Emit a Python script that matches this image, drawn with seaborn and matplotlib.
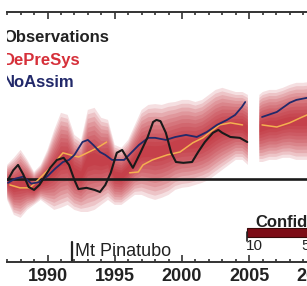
import numpy as np
import pandas as pd
import matplotlib
matplotlib.use("Agg")
import matplotlib.pyplot as plt
import seaborn as sns
from matplotlib.patches import Rectangle

# ---------------- data ----------------
obs_year = [1987.06, 1987.45, 1987.81, 1988.2, 1988.6, 1989.0, 1989.4, 1989.8, 1990.2, 1990.7,
            1991.2, 1991.6, 1992.0, 1992.3, 1992.9, 1993.5, 1993.9, 1994.3, 1994.7, 1995.15,
            1995.55, 1995.9, 1996.35, 1996.9, 1997.45, 1997.85, 1998.1, 1998.4, 1998.8, 1999.2,
            1999.55, 2000.1, 2000.75, 2001.2, 2001.7, 2002.3, 2002.7, 2003.0, 2003.6, 2004.3, 2004.85]
obs_val = [-0.003, 0.020, 0.033, 0.010, -0.020, -0.027, -0.015, 0.005, 0.026, 0.045,
           0.050, 0.033, -0.003, -0.025, -0.022, -0.027, -0.032, -0.015, 0.014, 0.062,
           0.069, 0.050, 0.026, 0.062, 0.100, 0.136, 0.141, 0.138, 0.110, 0.062,
           0.040, 0.038, 0.040, 0.064, 0.088, 0.110, 0.117, 0.110, 0.100, 0.098, 0.088]

noassim_year = [1987.06, 1987.6, 1988.2, 1988.8, 1989.4, 1990.0, 1990.6, 1991.15, 1991.6, 1992.0,
                1992.6, 1993.0, 1993.4, 1993.9, 1994.3, 1994.8, 1995.7, 1996.8, 1997.5, 1998.0,
                1998.8, 1999.5, 2000.3, 2001.1, 2001.85, 2002.6, 2003.35, 2003.95, 2004.45, 2004.7,
                2005.95, 2007.05, 2008.0, 2008.5, 2009.3, 2010.0]
noassim_val = [-0.010, 0.000, 0.005, -0.012, -0.008, 0.006, 0.025, 0.040, 0.045, 0.057,
               0.088, 0.093, 0.081, 0.064, 0.057, 0.045, 0.045, 0.081, 0.098, 0.098,
               0.093, 0.100, 0.105, 0.100, 0.112, 0.129, 0.141, 0.153, 0.172, 0.184,
               0.148, 0.160, 0.182, 0.189, 0.194, 0.196]
noassim_seg = [0] * 30 + [1] * 6

depresys_year = [1987.2, 1987.95, 1988.7, 1989.45, 1990.2, 1991.15, 1991.7, 1992.3, 1992.95, 1993.7,
                 1994.4, 1996.1, 1996.75, 1997.1, 1997.8, 1998.9, 1999.85, 2000.8, 2001.55, 2002.1,
                 2002.8, 2003.6, 2004.5, 2005.95, 2007.05, 2008.0, 2008.8, 2009.3, 2010.0]
depresys_val = [-0.015, -0.022, -0.022, 0.002, 0.026, 0.062, 0.057, 0.052, 0.062, 0.074,
                0.088, 0.014, 0.016, 0.033, 0.045, 0.057, 0.064, 0.086, 0.098, 0.112,
                0.129, 0.134, 0.129, 0.129, 0.124, 0.134, 0.146, 0.153, 0.165]
depresys_seg = [0] * 11 + [1] * 12 + [2] * 6

band_year = [1987.0, 1987.5, 1988.0, 1988.5, 1989.0, 1989.5, 1990.0, 1990.5, 1991.0, 1991.5,
             1992.0, 1992.5, 1993.0, 1993.5, 1994.0, 1994.5, 1995.0, 1995.5, 1996.0, 1996.5,
             1997.0, 1997.5, 1998.0, 1998.5, 1999.0, 1999.5, 2000.0, 2000.5, 2001.0, 2001.5,
             2002.0, 2002.5, 2003.0, 2003.5, 2004.0, 2004.5, 2004.9, 2005.3,
             2005.75, 2006.0, 2006.5, 2007.0, 2007.5, 2008.0, 2008.5, 2009.0, 2009.5, 2010.0]
band_upper = [0.033, 0.050, 0.069, 0.045, 0.016, 0.033, 0.069, 0.117, 0.158, 0.153,
              0.105, 0.093, 0.165, 0.170, 0.146, 0.141, 0.081, 0.074, 0.093, 0.129,
              0.165, 0.177, 0.179, 0.177, 0.182, 0.184, 0.189, 0.189, 0.184, 0.189,
              0.201, 0.213, 0.218, 0.213, 0.208, 0.208, 0.201, np.nan,
              0.201, 0.208, 0.213, 0.213, 0.218, 0.225, 0.230, 0.230, 0.232, 0.232]
band_lower = [-0.051, -0.087, -0.094, -0.075, -0.063, -0.051, -0.063, -0.075, -0.070, -0.063,
              -0.075, -0.080, -0.080, -0.075, -0.063, -0.051, -0.063, -0.063, -0.051, -0.039,
              -0.039, -0.046, -0.051, -0.046, -0.039, -0.027, -0.022, -0.020, -0.015, -0.010,
              -0.003, 0.009, 0.021, 0.033, 0.045, 0.045, 0.033, np.nan,
              0.040, 0.040, 0.045, 0.045, 0.050, 0.050, 0.045, 0.045, 0.045, 0.045]

tick_years = [1990, 1995, 2000, 2005, 2010]
tick_labels = ["1990", "1995", "2000", "2005", "2010"]
pinatubo_year = 1991.8
series_labels = ["Observations", "DePreSys", "NoAssim"]
conf_labels = ["10", "5"]

# ---------------- style ----------------
sns.set_style("white")
plt.rcParams["font.family"] = ["Liberation Sans", "DejaVu Sans"]

W, H = 307, 286
fig = plt.figure(figsize=(W / 100, H / 100), dpi=100)
ax_left_px, ax_width_px = 7.15, 336.25
ax = fig.add_axes([ax_left_px / W, 24 / H, ax_width_px / W, 250 / H])
ax.set_xlim(1987.0, 2012.0)
ax.set_ylim(-0.2, 0.4)

# shaded DePreSys confidence fan (smooth gradient from pale edge to dark core)
by = np.array(band_year)
bu = np.array(band_upper)
bl = np.array(band_lower)
bc = (bu + bl) / 2
for f in np.linspace(1.0, 0.12, 11):
    ax.fill_between(by, bc - f * (bc - bl), bc + f * (bu - bc),
                    color="#b80f1c", alpha=0.13, linewidth=0, zorder=1)

ax.axhline(0, color="#1a1a1a", lw=1.9, zorder=2)

df_dp = pd.DataFrame({"year": depresys_year, "val": depresys_val, "seg": depresys_seg})
sns.lineplot(data=df_dp, x="year", y="val", units="seg", estimator=None,
             color="#f4b050", lw=1.1, ax=ax, zorder=3)
df_na = pd.DataFrame({"year": noassim_year, "val": noassim_val, "seg": noassim_seg})
sns.lineplot(data=df_na, x="year", y="val", units="seg", estimator=None,
             color="#22296a", lw=1.3, ax=ax, zorder=4)
df_obs = pd.DataFrame({"year": obs_year, "val": obs_val})
sns.lineplot(data=df_obs, x="year", y="val", color="#1a1a1a", lw=1.5, ax=ax, zorder=5)

# axes styling
for s in ["top", "bottom"]:
    ax.spines[s].set_color("#333333")
    ax.spines[s].set_linewidth(1.4)
ax.spines["left"].set_visible(False)
ax.spines["right"].set_visible(False)
ax.set_xticks(tick_years)
ax.set_xticklabels(tick_labels, fontsize=13, fontweight="bold", color="#222222")
ax.set_xticks(np.arange(1987, 2013), minor=True)
ax.tick_params(axis="x", which="both", direction="in", top=True, bottom=True,
               color="#333333", width=1.2, pad=4)
ax.tick_params(axis="x", which="major", length=5)
ax.tick_params(axis="x", which="minor", length=2.5)
ax.set_yticks([])
ax.set_xlabel("")
ax.set_ylabel("")

# legend text (clipped to axes like the original)
leg_x = (3 - ax_left_px) / ax_width_px
for lab, col, yy in zip(series_labels, ["#222222", "#d6303a", "#22296a"], [0.88, 0.788, 0.70]):
    ax.text(leg_x, yy, lab, transform=ax.transAxes, fontsize=12, fontweight="bold",
            color=col, va="baseline", ha="left", clip_on=True)

# Mt Pinatubo marker
ax.axvline(pinatubo_year, ymin=0, ymax=0.08, color="#222222", lw=1.6)
ax.text(1992.05, -0.186, "Mt Pinatubo", fontsize=13, color="#222222", va="baseline", ha="left")

# confidence bar legend
fig.text(255 / W, (H - 227) / H, "Confidence", fontsize=12, fontweight="bold",
         color="#222222", va="baseline", ha="left")
fig.patches.append(Rectangle((247 / W, (H - 237) / H), 80 / W, 9 / H, transform=fig.transFigure,
                             facecolor="#7d0c16", edgecolor="#3a0a0a", lw=0.8))
fig.lines.append(plt.Line2D([247 / W, 247 / W], [(H - 241) / H, (H - 232) / H],
                            transform=fig.transFigure, color="#222222", lw=1.2))
fig.text(246 / W, (H - 250) / H, conf_labels[0], fontsize=11, color="#222222",
         va="baseline", ha="left")
fig.text(301 / W, (H - 250) / H, conf_labels[1], fontsize=11, color="#222222",
         va="baseline", ha="left")

if ax.get_legend() is not None:
    ax.get_legend().remove()

fig.savefig("out.png", dpi=100, facecolor="white")
